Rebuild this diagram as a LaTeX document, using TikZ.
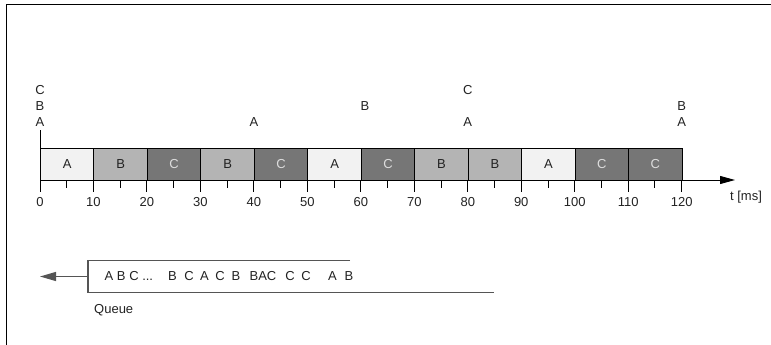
\documentclass[tikz,border=0pt]{standalone}
\usepackage{fontspec}
\setmainfont{Liberation Sans}
\usetikzlibrary{arrows.meta}
\definecolor{cA}{HTML}{F2F2F2}
\definecolor{cB}{HTML}{B4B4B4}
\definecolor{cC}{HTML}{767676}
\definecolor{cCtext}{HTML}{DDDDDD}
\definecolor{qline}{HTML}{555555}
\definecolor{txt}{HTML}{222222}
\begin{document}
\begin{tikzpicture}[x=1pt,y=-1pt,font=\fontsize{13}{15}\selectfont,
  slot/.style={draw=black,line width=1pt,minimum width=53.47pt,minimum height=32pt,inner sep=0pt,anchor=north west,text=txt},
  slotA/.style={slot,fill=cA},
  slotB/.style={slot,fill=cB},
  slotC/.style={slot,fill=cC,text=cCtext},
  lbl/.style={inner sep=0pt,text=txt},
  axisline/.style={line width=0.9pt,black},
  qedge/.style={line width=1.2pt,qline}]
\useasboundingbox (0,0) rectangle (771,345);
% frame
\draw[line width=0.9pt] (6,345) -- (6,4) -- (771,4);
% slots
\foreach \typ [count=\i from 0] in {A,B,C,B,C,A,C,B,B,A,C,C}{
  \node[slot\typ] (s\i) at ({40+53.47*\i},148) {\typ};
}
% axis
\coordinate (ax0) at (40,180);
\coordinate (axend) at (735,180);
\draw[axisline,-{Triangle[length=15pt,width=8pt]}] (ax0) -- (axend);
\foreach \t in {0,5,...,120}{
  \pgfmathtruncatemacro{\m}{mod(\t,10)}
  \ifnum\m=0
    \draw[axisline] ({40+5.347*\t},180) -- ({40+5.347*\t},192);
    \node[lbl] (tl\t) at ({40+5.347*\t},202) {\t};
  \else
    \draw[axisline] ({40+5.347*\t},180) -- ({40+5.347*\t},188);
  \fi
}
\node[lbl] (tunit) at (746,197) {t [ms]};
% release marker at 0
\coordinate (r0) at (40,130);
\draw[axisline] (r0) -- (s0.north west);
% arrivals
\node[lbl] (a0C) at (40,90) {C};
\node[lbl] (a0B) at (40,106) {B};
\node[lbl] (a0A) at (40,122) {A};
\node[lbl] (a40A) at (253.9,122) {A};
\node[lbl] (a60B) at (365,106) {B};
\node[lbl] (a80C) at (467.8,90) {C};
\node[lbl] (a80A) at (467.8,122) {A};
\node[lbl] (a120B) at (681.6,106) {B};
\node[lbl] (a120A) at (681.6,122) {A};
% queue
\coordinate (qtr) at (350,260.5);
\coordinate (qtl) at (88,260.5);
\coordinate (qbl) at (88,292.5);
\coordinate (qbr) at (494,292.5);
\draw[qedge] (qtr) -- (qtl) -- (qbl) -- (qbr);
\coordinate (qa) at (88,276.5);
\coordinate (qtip) at (40,276.5);
\draw[qedge,-{Triangle[length=16pt,width=9pt]}] (qa) -- (qtip);
\node[lbl,anchor=west] (q0) at (104.5,276.5) {A B C ...};
\foreach \x/\s [count=\k] in {172.5/B,189/C,204.5/A,220/C,236/B,263/BAC,290/C,306/C,332.5/A,349/B}{
  \node[lbl] (q\k) at (\x,276.5) {\s};
}
\node[lbl,anchor=west] (qlabel) at (94,310) {Queue};
\end{tikzpicture}
\end{document}
